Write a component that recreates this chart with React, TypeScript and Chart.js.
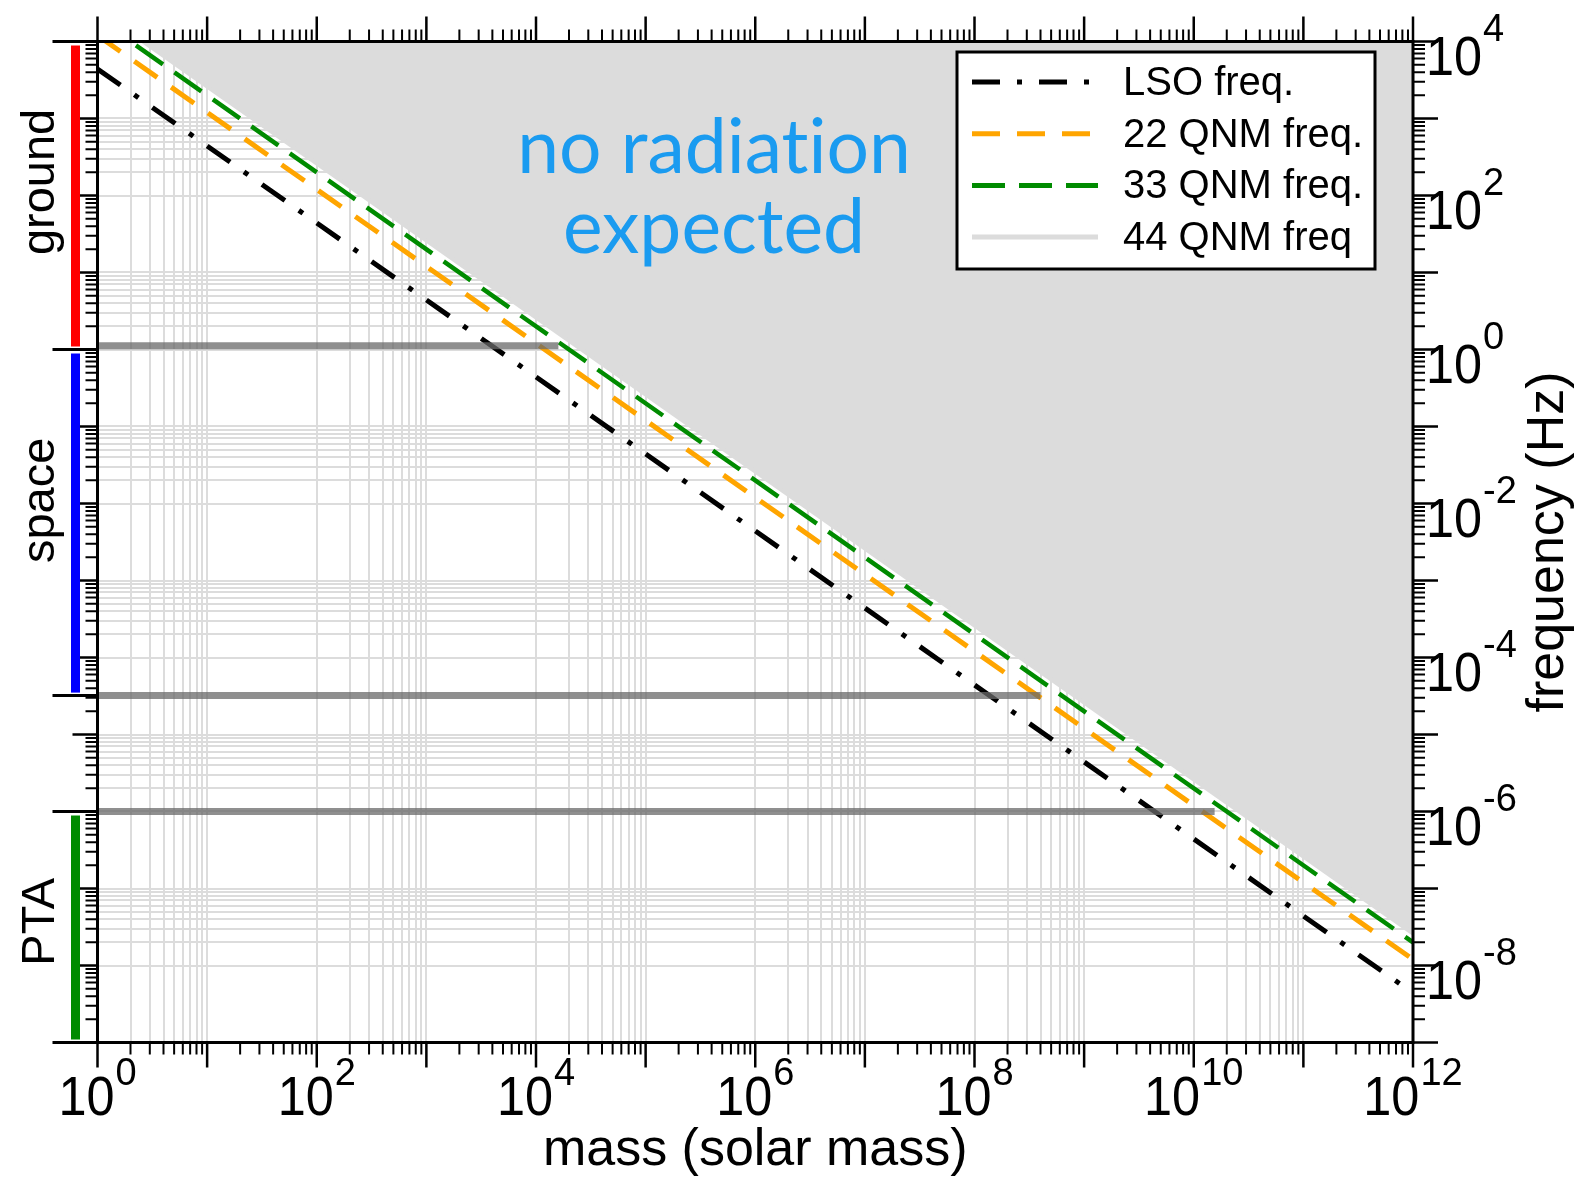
import React, { useEffect, useRef } from 'react';
import { Chart, registerables } from 'chart.js';

Chart.register(...registerables);

// ---------- data ----------
const massRange = [1, 1e12];
const freqRange = [1e-9, 1e4];

const lineMasses = [1, 1e12];
const lsoFreq = [4400, 4.4e-9];
const qnm22Freq = [1.2e4, 1.2e-8];
const qnm33Freq = [2.0e4, 2.0e-8];
const qnm44Freq = [2.6e4, 2.6e-8];

const seriesLabels = ['LSO freq.', '22 QNM freq.', '33 QNM freq.', '44 QNM freq'];
const seriesColors = ['#000000', '#ffa500', '#008b00', '#dcdcdc'];
const seriesDash = [[28, 17, 5, 17], [28, 17], [33, 14], []];
const seriesWidth = [5, 5, 4.5, 4];

const detectorFreq = [1.12, 3.2e-5, 1e-6];
const detectorMaxMass = [1.6e4, 4.0e8, 1.55e10];

const bandNames = ['ground', 'space', 'PTA'];
const bandLow = [1, 3.2e-5, 1e-9];
const bandHigh = [1e4, 1, 1e-6];
const bandColors = ['#ff0000', '#0000ff', '#008b00'];
const bandLabelFreq = [150, 0.011, 3.7e-8];

const xLabelExps = [0, 2, 4, 6, 8, 10, 12];
const yLabelExps = [4, 2, 0, -2, -4, -6, -8];
const gridDecadesX = [0, 2, 4, 6, 8, 10];
const gridDecadesY = [-8, -6, -4, -2, 0, 2];

// zero-width non-joiner keeps "t" and "i" as separate glyphs
const annotationLines = ['no radiat\u200Cion', 'expected'];

// ---------- helpers ----------
const clean = (v: number) => Number(v.toPrecision(12));
const gridValues = (decades: number[]) => {
  const out: number[] = [];
  decades.forEach((e) => {
    for (let k = 1; k <= 10; k++) out.push(clean(k * Math.pow(10, e)));
  });
  return out;
};
const xGrid = gridValues(gridDecadesX);
const yGrid = gridValues(gridDecadesY);

const FONT = '"Liberation Sans", Arial, Helvetica, sans-serif';
const MAIN_SIZE = 56;
const MAIN_SX = 0.9;
const SUP_SIZE = 38;
const SUP_SX = 1.0;

function scaledWidth(ctx: CanvasRenderingContext2D, text: string, size: number, sx: number) {
  ctx.font = `${size}px ${FONT}`;
  return ctx.measureText(text).width * sx;
}
function drawScaled(ctx: CanvasRenderingContext2D, text: string, x: number, y: number, size: number, sx: number) {
  ctx.save();
  ctx.font = `${size}px ${FONT}`;
  ctx.textAlign = 'left';
  ctx.textBaseline = 'alphabetic';
  ctx.translate(x, y);
  ctx.scale(sx, 1);
  ctx.fillText(text, 0, 0);
  ctx.restore();
}
function drawPower(ctx: CanvasRenderingContext2D, exp: number, x: number, mainBase: number, supBase: number, mode: 'center' | 'left') {
  const sup = exp < 0 ? '-' + String(-exp) : String(exp);
  const wMain = scaledWidth(ctx, '10', MAIN_SIZE, MAIN_SX);
  const wSup = scaledWidth(ctx, sup, SUP_SIZE, SUP_SX);
  const gap = 1;
  const total = wMain + gap + wSup;
  const x0 = mode === 'center' ? x - total / 2 : x;
  drawScaled(ctx, '10', x0, mainBase, MAIN_SIZE, MAIN_SX);
  drawScaled(ctx, sup, x0 + wMain + gap, supBase, SUP_SIZE, SUP_SX);
}

const decorPlugin = {
  id: 'decor',
  afterDraw(chart: any) {
    const ctx: CanvasRenderingContext2D = chart.ctx;
    const xs = chart.scales.x;
    const ys = chart.scales.y;
    const { left, right, top, bottom } = chart.chartArea;
    ctx.save();

    // annotation text in the shaded region
    ctx.fillStyle = '#1a9bf0';
    ctx.font = '75px Lato, "Open Sans", sans-serif';
    ctx.textAlign = 'center';
    ctx.textBaseline = 'alphabetic';
    ctx.fillText(annotationLines[0], 714, 173);
    ctx.fillText(annotationLines[1], 714, 253);

    // frame
    ctx.strokeStyle = '#000';
    ctx.lineCap = 'butt';
    ctx.setLineDash([]);
    ctx.lineWidth = 3;
    ctx.strokeRect(left, top, right - left, bottom - top);

    // x ticks (top & bottom)
    for (let e = 0; e <= 12; e++) {
      for (let k = 1; k <= 9; k++) {
        const v = clean(k * Math.pow(10, e));
        if (v > massRange[1] * 1.0001) break;
        const px = xs.getPixelForValue(v);
        const len = k === 1 ? 25 : 12;
        ctx.lineWidth = k === 1 ? 2.5 : 2;
        ctx.beginPath();
        ctx.moveTo(px, bottom);
        ctx.lineTo(px, bottom + len);
        ctx.moveTo(px, top);
        ctx.lineTo(px, top - len);
        ctx.stroke();
      }
    }
    // y ticks (left & right)
    for (let e = -9; e <= 4; e++) {
      for (let k = 1; k <= 9; k++) {
        const v = clean(k * Math.pow(10, e));
        if (v > freqRange[1] * 1.0001) break;
        const py = ys.getPixelForValue(v);
        const len = k === 1 ? 25 : 12;
        ctx.lineWidth = k === 1 ? 2.5 : 2;
        ctx.beginPath();
        ctx.moveTo(right, py);
        ctx.lineTo(right + len, py);
        ctx.moveTo(left, py);
        ctx.lineTo(left - len, py);
        ctx.stroke();
      }
    }
    // band boundary ticks on the left
    const bounds = Array.from(new Set([...bandLow, ...bandHigh]));
    ctx.lineWidth = 3;
    bounds.forEach((b) => {
      const py = ys.getPixelForValue(b);
      ctx.beginPath();
      ctx.moveTo(left, py);
      ctx.lineTo(left - 45, py);
      ctx.stroke();
    });

    // band bars and labels
    bandNames.forEach((name, i) => {
      const yTop = ys.getPixelForValue(bandHigh[i]) + 4;
      const yBot = ys.getPixelForValue(bandLow[i]) - 3;
      ctx.fillStyle = bandColors[i];
      ctx.fillRect(left - 26.5, yTop, 9, yBot - yTop);
      ctx.save();
      ctx.fillStyle = '#000';
      ctx.font = `47px ${FONT}`;
      ctx.textAlign = 'center';
      ctx.textBaseline = 'alphabetic';
      ctx.translate(left - 44, ys.getPixelForValue(bandLabelFreq[i]));
      ctx.rotate(-Math.PI / 2);
      ctx.fillText(name, 0, 0);
      ctx.restore();
    });

    // tick labels
    ctx.fillStyle = '#000';
    xLabelExps.forEach((e) => {
      const px = xs.getPixelForValue(Math.pow(10, e));
      drawPower(ctx, e, px, bottom + 72, bottom + 42, 'center');
    });
    yLabelExps.forEach((e) => {
      const py = ys.getPixelForValue(Math.pow(10, e));
      drawPower(ctx, e, right + 13, py + 33, py - 1, 'left');
    });

    // axis titles
    ctx.font = `52px ${FONT}`;
    ctx.textAlign = 'center';
    ctx.textBaseline = 'alphabetic';
    ctx.fillText(chart.options.scales.x.title.text, (left + right) / 2, 1165);
    ctx.save();
    ctx.translate(1563, (top + bottom) / 2);
    ctx.rotate(-Math.PI / 2);
    ctx.fillText(chart.options.scales.y.title.text, 0, 0);
    ctx.restore();

    // legend
    const lx = 957, ly = 52, lw = 418, lh = 217;
    ctx.fillStyle = '#fff';
    ctx.fillRect(lx, ly, lw, lh);
    ctx.strokeStyle = '#000';
    ctx.lineWidth = 3;
    ctx.strokeRect(lx, ly, lw, lh);
    const items = chart.data.datasets.filter((d: any) => d.inLegend);
    items.forEach((d: any, i: number) => {
      const ry = 82 + i * 51.7;
      ctx.save();
      ctx.strokeStyle = d.borderColor;
      ctx.lineWidth = Math.max(d.borderWidth, 5);
      ctx.setLineDash(d.borderDash || []);
      ctx.lineDashOffset = 0;
      ctx.beginPath();
      ctx.moveTo(972, ry);
      ctx.lineTo(1098, ry);
      ctx.stroke();
      ctx.restore();
      ctx.fillStyle = '#000';
      ctx.font = `40px ${FONT}`;
      ctx.textAlign = 'left';
      ctx.textBaseline = 'alphabetic';
      ctx.fillText(d.label, 1123, ry + 13);
    });

    ctx.restore();
  },
};

export default function App() {
  const ref = useRef<HTMLCanvasElement>(null);

  useEffect(() => {
    if (!ref.current) return;
    const pts = (ys: number[]) => lineMasses.map((m, i) => ({ x: m, y: ys[i] }));
    const seriesFreqs = [lsoFreq, qnm22Freq, qnm33Freq, qnm44Freq];

    const datasets: any[] = [];
    // 44 QNM line bounding the shaded "no radiation" region
    datasets.push({
      label: seriesLabels[3],
      inLegend: true,
      data: pts(seriesFreqs[3]),
      borderColor: seriesColors[3],
      backgroundColor: '#dcdcdc',
      borderWidth: seriesWidth[3],
      borderDash: seriesDash[3],
      fill: 'end',
      pointRadius: 0,
      order: 10,
      clip: 0,
    });
    [0, 1, 2].forEach((i) => {
      datasets.push({
        label: seriesLabels[i],
        inLegend: true,
        data: pts(seriesFreqs[i]),
        borderColor: seriesColors[i],
        borderWidth: seriesWidth[i],
        borderDash: seriesDash[i],
        fill: false,
        pointRadius: 0,
        order: 5 - i,
        clip: 0,
      });
    });
    detectorFreq.forEach((f, i) => {
      datasets.push({
        label: 'band ' + i,
        inLegend: false,
        data: [
          { x: massRange[0], y: f },
          { x: detectorMaxMass[i], y: f },
        ],
        borderColor: 'rgba(106,106,106,0.75)',
        borderWidth: 7,
        fill: false,
        pointRadius: 0,
        order: 0,
        clip: 0,
      });
    });
    // legend order: LSO, 22, 33, 44
    const ordered = [datasets[1], datasets[2], datasets[3], datasets[0], ...datasets.slice(4)];

    const chart = new Chart(ref.current, {
      type: 'line',
      data: { datasets: ordered },
      options: {
        responsive: false,
        animation: false,
        devicePixelRatio: 1,
        events: [],
        layout: { padding: { left: 97.5, right: 167, top: 41.5, bottom: 134.5 } },
        elements: { line: { tension: 0 } },
        plugins: { legend: { display: false }, tooltip: { enabled: false } },
        scales: {
          x: {
            type: 'logarithmic',
            position: 'bottom',
            min: massRange[0],
            max: massRange[1],
            title: { display: false, text: 'mass (solar mass)' },
            ticks: { display: false },
            border: { display: false },
            grid: { color: '#dcdcdc', lineWidth: 2, drawTicks: false },
            afterBuildTicks: (s: any) => {
              s.ticks = xGrid.map((v) => ({ value: v }));
            },
            afterFit: (s: any) => {
              s.height = 0;
            },
          },
          y: {
            type: 'logarithmic',
            position: 'right',
            min: freqRange[0],
            max: freqRange[1],
            title: { display: false, text: 'frequency (Hz)' },
            ticks: { display: false },
            border: { display: false },
            grid: { color: '#dcdcdc', lineWidth: 2, drawTicks: false },
            afterBuildTicks: (s: any) => {
              s.ticks = yGrid.map((v) => ({ value: v }));
            },
            afterFit: (s: any) => {
              s.width = 0;
            },
          },
        },
      } as any,
      plugins: [decorPlugin],
    });
    return () => chart.destroy();
  }, []);

  return (
    <div style={{ position: 'absolute', left: 0, top: 0, width: 1580, height: 1177, background: '#fff' }}>
      <canvas ref={ref} width={1580} height={1177} style={{ display: 'block', width: 1580, height: 1177 }} />
    </div>
  );
}
